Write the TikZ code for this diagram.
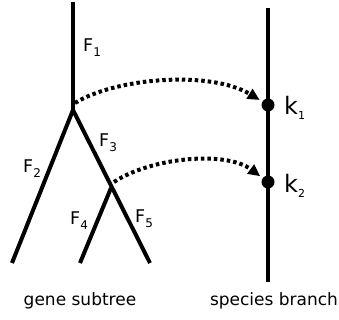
\documentclass[tikz,border=0pt]{standalone}
\usepackage{fontspec}
\setmainfont{DejaVu Sans}
\usetikzlibrary{arrows.meta}
\newcommand{\fsub}[1]{\raisebox{-5pt}{\fontsize{12}{12}\selectfont #1}}
\newcommand{\ksub}[1]{\raisebox{-5pt}{\fontsize{11}{11}\selectfont #1}}
\begin{document}
\begin{tikzpicture}[x=1pt,y=-1pt,
  branch/.style={line width=4pt},
  mapping/.style={line width=4pt, dash pattern=on 3.5pt off 3pt, -{Triangle[length=12pt,width=11pt]}, shorten >=3pt},
  lab/.style={font=\fontsize{17.5}{18}\selectfont, inner sep=0pt, anchor=base west},
  klab/.style={font=\fontsize{24}{26}\selectfont, inner sep=0pt, anchor=base west},
  captext/.style={font=\fontsize{17}{19}\selectfont, inner sep=0pt, anchor=base}]
\useasboundingbox (0,0) rectangle (339,320);
% gene subtree
\coordinate (top) at (73,2);
\coordinate (root) at (73,110);
\coordinate (a) at (12,263);
\coordinate (b) at (150,263);
\coordinate (inner) at (111,188);
\coordinate (c) at (80,263);
\draw[branch] (top) -- (root);
\draw[branch] (a) -- (root) -- (b);
\draw[branch] (inner) -- (c);
% species branch
\coordinate (stop) at (268,8);
\coordinate (sbot) at (268,282);
\draw[branch] (stop) -- (sbot);
\node[circle, fill, inner sep=0pt, minimum size=13pt] (k1) at (268,105) {};
\node[circle, fill, inner sep=0pt, minimum size=13pt] (k2) at (268,182) {};
% mappings
\draw[mapping] (75,103) .. controls (115,78) and (210,70) .. (k1);
\draw[mapping] (114,182) .. controls (150,158) and (225,150) .. (k2);
% labels
\node[lab] (F1) at (83,52) {F\fsub{1}};
\node[lab] (F2) at (23,172) {F\fsub{2}};
\node[lab] (F3) at (99,147) {F\fsub{3}};
\node[lab] (F4) at (70,224) {F\fsub{4}};
\node[lab] (F5) at (135,222) {F\fsub{5}};
\node[klab] (K1) at (284,115) {k\ksub{1}};
\node[klab] (K2) at (284,192) {k\ksub{2}};
\node[captext] (g) at (80,305) {gene subtree};
\node[captext] (s) at (274,305) {species branch};
\end{tikzpicture}
\end{document}
